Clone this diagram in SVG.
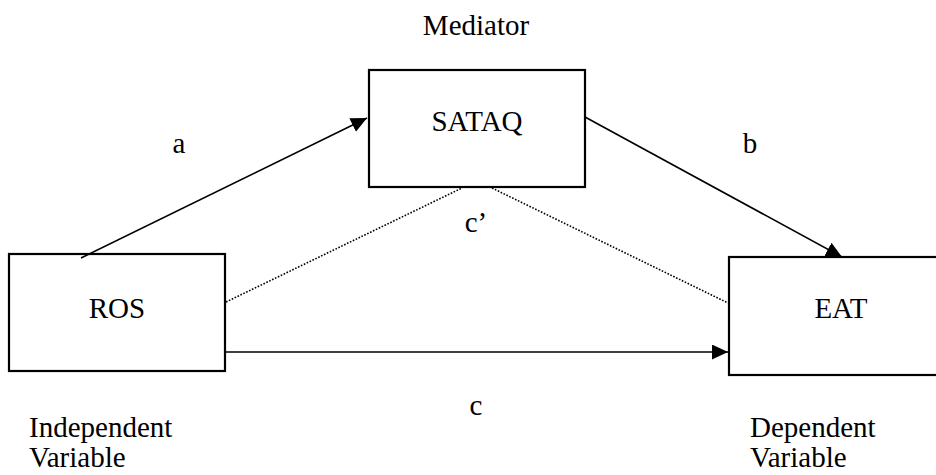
<svg xmlns="http://www.w3.org/2000/svg" width="936" height="475" viewBox="0 0 936 475">
<style>
.box{fill:#fff;stroke:#000;stroke-width:2.2}
text{font-family:"Liberation Serif","Times New Roman","DejaVu Serif",serif;font-size:29px;fill:#000}
.m{text-anchor:middle}
.ln{stroke:#000;stroke-width:1.6;fill:none}
.dot{stroke:#000;stroke-width:1.6;fill:none;stroke-dasharray:1.6 1.6}
</style>
<defs>
<marker id="ah" markerUnits="userSpaceOnUse" markerWidth="18" markerHeight="16" refX="16" refY="7.5" orient="auto">
<path d="M0,0 L16,7.5 L0,15 Z" fill="#000"/>
</marker>
</defs>
<rect width="936" height="475" fill="#fff"/>
<g id="ros">
<rect class="box" x="9" y="254" width="216" height="117"/>
<text class="m" x="117" y="318">ROS</text>
</g>
<g id="sataq">
<rect class="box" x="369" y="70" width="216" height="117"/>
<text class="m" x="477" y="131">SATAQ</text>
</g>
<g id="eat">
<rect class="box" x="729" y="257" width="224" height="118"/>
<text class="m" x="841" y="318">EAT</text>
</g>
<g id="connectors">
<line class="ln" x1="81" y1="258" x2="367" y2="118" marker-end="url(#ah)"/>
<line class="ln" x1="585" y1="117" x2="842" y2="257" marker-end="url(#ah)"/>
<line class="ln" x1="225" y1="352" x2="728" y2="352" marker-end="url(#ah)"/>
<line class="dot" x1="226" y1="302" x2="462" y2="188"/>
<line class="dot" x1="492" y1="188" x2="728" y2="303"/>
</g>
<g id="labels">
<text class="m" x="476" y="35">Mediator</text>
<text class="m" x="179" y="153">a</text>
<text class="m" x="750" y="153">b</text>
<text class="m" x="476" y="232">c’</text>
<text class="m" x="476" y="415">c</text>
<text x="29" y="437">Independent</text>
<text x="29" y="467">Variable</text>
<text x="750" y="437">Dependent</text>
<text x="750" y="467">Variable</text>
</g>
</svg>
